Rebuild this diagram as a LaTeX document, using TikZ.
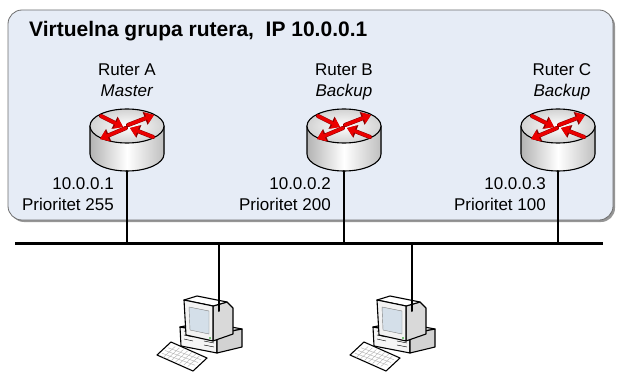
\documentclass[tikz,border=0pt]{standalone}
\usepackage{fontspec}
\setmainfont{Liberation Sans}
\usetikzlibrary{arrows.meta,calc}
\definecolor{groupfill} {RGB}{230,236,246}
\definecolor{groupedge} {RGB}{110,110,110}
\definecolor{shadowcol} {RGB}{150,150,150}
\definecolor{arrowred}  {RGB}{235,  0,  0}
\definecolor{arrowedge} {RGB}{140,  0,  0}
\definecolor{screencol} {RGB}{212,223,233}

\tikzset{
  % router: cylinder with the four red arrows, origin = centre of the top face
  ruter/.pic={
    \fill[left color=gray!60,right color=gray!50,middle color=white]
      (-37,0) -- (-37,28) arc[start angle=180,end angle=0,x radius=37,y radius=17]
      -- (37,0) -- cycle;
    \draw[outline] (-37,0) -- (-37,28)
      arc[start angle=180,end angle=0,x radius=37,y radius=17] -- (37,0);
    \draw[outline,inner color=white,outer color=gray!35]
      (0,0) ellipse[x radius=37,y radius=17];
    \foreach \ax/\ay/\bx/\by in {-26/-10/-4/1, 1/-1/27/-11, -1/2/-27/13, 26/11/3/2}
      \draw[redarrow] (\ax,\ay) -- (\bx,\by);
    \coordinate (-bottom) at (0,45);
  },
  % workstation: monitor on a desktop case, keyboard in front
  pc/.pic={
    % case
    \draw[outline,fill=gray!20] (-39,27) -- (-14,22) -- (23,29) -- (-2,34) -- cycle;
    \draw[outline,fill=gray!8]  (-39,27) -- (-2,34) -- (-2,53) -- (-38,46) -- cycle;
    \draw[outline,fill=gray!35] (-2,34) -- (23,29) -- (23,47) -- (-2,53) -- cycle;
    \draw[thin] (-35,31) -- (-26,33) (-35,35) -- (-26,37) (-35,39) -- (-26,41);
    \draw[thin] (-15,41) -- (-5,43) (-15,45) -- (-5,47);
    % monitor
    \draw[outline,fill=gray!30] (-6,6) -- (8,2) -- (14,8) -- (14,34) -- (-6,41) -- cycle;
    \draw[outline,fill=white]   (-35,0) -- (-22,-4) -- (8,2) -- (-6,6) -- cycle;
    \draw[outline,fill=gray!10] (-35,0) -- (-6,6) -- (-6,41) -- (-33,35) -- cycle;
    \draw[gray,fill=screencol]  (-30,7) -- (-10,11) -- (-10,34) -- (-29,30) -- cycle;
    \fill[green!60!black] (-9,38) circle[radius=0.9];
    % keyboard
    \draw[outline,fill=white] (-62,55) -- (-48,42) -- (-12,58) -- (-26,71) -- cycle;
    \foreach \i in {1,...,3}
      \draw[gray!60,thin] ($(-60,56)!\i/4!(-48,45)$) -- ($(-27,68)!\i/4!(-15,57)$);
    \foreach \i in {1,...,7}
      \draw[gray!60,thin] ($(-60,56)!\i/8!(-27,68)$) -- ($(-48,45)!\i/8!(-15,57)$);
    \coordinate (-top) at (0,11);
  }
}

\begin{document}
\begin{tikzpicture}[
  x=1pt,y=-1pt,
  line cap=round,line join=round,
  outline/.style={draw=black,line width=1.1pt},
  redarrow/.style={draw=arrowred,line width=3.2pt,-{Triangle[length=8pt,width=11pt]},
    preaction={draw=arrowedge,line width=4.2pt,-{Triangle[length=9.5pt,width=13pt]}}},
  wire/.style={draw=black,line width=2pt},
  titletext/.style={font=\fontsize{21}{25}\selectfont\bfseries,inner sep=0pt},
  namelbl/.style={font=\fontsize{17}{21}\selectfont,inner sep=0pt,align=center},
  addrlbl/.style={font=\fontsize{17}{21}\selectfont,inner sep=0pt,align=right}
]
\useasboundingbox (0,0) rectangle (617,374);

% ---- group box -----------------------------------------------------------
\fill[shadowcol,rounded corners=14pt] (10,12) rectangle (615,222);
\draw[groupedge,fill=groupfill,line width=0.8pt,rounded corners=14pt] (8,10) rectangle (613,220);
\node[titletext,anchor=base west] (title) at (29,37) {Virtuelna grupa rutera,~ IP 10.0.0.1};

% ---- routers -------------------------------------------------------------
\pic (rA) at (127,126) {ruter};
\pic (rB) at (344,126) {ruter};
\pic (rC) at (558,126) {ruter};

% multi-line nodes sit on the baseline of their last line
\node[namelbl,anchor=base] (nameA) at (127,97) {Ruter A\\\textit{Master}};
\node[namelbl,anchor=base] (nameB) at (344,97) {Ruter B\\\textit{Backup}};
\node[namelbl,anchor=base] (nameC) at (562,97) {Ruter C\\\textit{Backup}};

\node[addrlbl,anchor=base east] (adrA) at (114,210) {10.0.0.1\\Prioritet 255};
\node[addrlbl,anchor=base east] (adrB) at (331,210) {10.0.0.2\\Prioritet 200};
\node[addrlbl,anchor=base east] (adrC) at (546,210) {10.0.0.3\\Prioritet 100};

% ---- bus -----------------------------------------------------------------
\coordinate (busL) at (15,243);
\coordinate (busR) at (603,243);
\draw[black,line width=3pt,line cap=butt] (busL) -- (busR);

\draw[wire] (rA-bottom) -- (rA-bottom |- busL);
\draw[wire] (rB-bottom) -- (rB-bottom |- busL);
\draw[wire] (rC-bottom) -- (rC-bottom |- busL);

% ---- workstations --------------------------------------------------------
\pic (pc1) at (219,300) {pc};
\pic (pc2) at (412,300) {pc};
\draw[wire] (pc1-top |- busL) -- (pc1-top);
\draw[wire] (pc2-top |- busL) -- (pc2-top);

\end{tikzpicture}
\end{document}
